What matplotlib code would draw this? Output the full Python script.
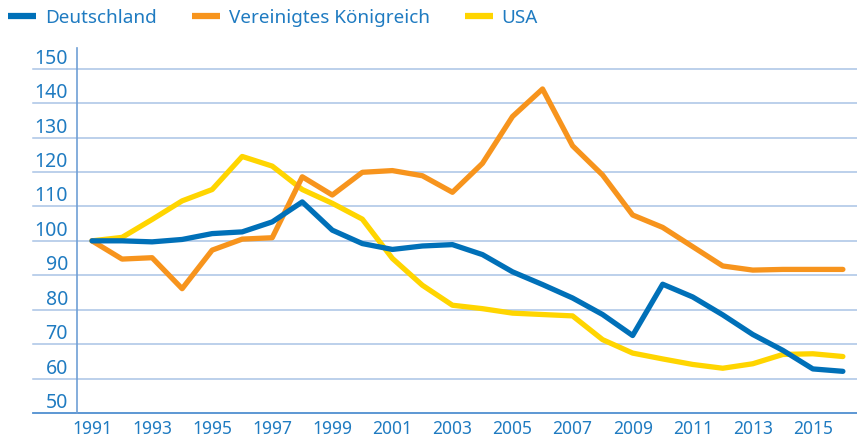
import matplotlib.pyplot as plt

years = list(range(1991, 2017))

deutschland = [100, 100, 99.7, 100.4, 102.1, 102.6, 105.5, 111.3, 103.1, 99.2,
               97.5, 98.5, 98.9, 96.0, 91.0, 87.3, 83.4, 78.6, 72.5, 87.4,
               83.7, 78.5, 72.8, 68.2, 62.8, 62.1]
uk = [100, 94.7, 95.1, 86.1, 97.3, 100.5, 100.9, 118.6, 113.3, 119.9,
      120.4, 118.9, 114.1, 122.5, 136.1, 144.1, 127.6, 119.1, 107.5, 103.9,
      98.3, 92.7, 91.5, 91.7, 91.7, 91.7]
usa = [100, 101, 106.2, 111.6, 114.9, 124.5, 121.7, 114.9, 110.9, 106.3,
       94.9, 87.1, 81.3, 80.3, 79.0, 78.6, 78.2, 71.3, 67.4, 65.7,
       64.1, 63.0, 64.3, 67.0, 67.2, 66.4]

yticks = [50, 60, 70, 80, 90, 100, 110, 120, 130, 140, 150]
xticks = list(range(1991, 2017, 2))

text_col = '#1f7bc1'
grid_col = '#a9c3e6'

plt.rcParams['font.family'] = ['Noto Sans', 'DejaVu Sans']

fig = plt.figure(figsize=(8.57, 4.4), dpi=100)
ax = fig.add_axes([77 / 857, 27 / 440, 780 / 857, 365 / 440])

ax.set_xlim(1990.5, 2016.47)
ax.set_ylim(50, 156)

# horizontal grid, drawn past the left spine under the labels
for v in yticks[1:]:
    ax.axhline(v, xmin=-44 / 780, xmax=1, color=grid_col, lw=1.1,
               clip_on=False, zorder=1)
ax.axhline(50, xmin=-44 / 780, xmax=1, color='#4f8fd0', lw=1.3,
           clip_on=False, zorder=1)

ax.plot(years, usa, color='#ffd500', lw=3.8, label='USA', zorder=3,
        solid_capstyle='round')
ax.plot(years, uk, color='#f7941d', lw=3.8, label='Vereinigtes Königreich',
        zorder=3, solid_capstyle='round')
ax.plot(years, deutschland, color='#0070b8', lw=3.8, label='Deutschland',
        zorder=4, solid_capstyle='round')

for s in ['top', 'right', 'bottom']:
    ax.spines[s].set_visible(False)
ax.spines['left'].set_color('#6f9fd6')
ax.spines['left'].set_linewidth(1.2)

ax.set_yticks(yticks)
ax.set_yticklabels([str(v) for v in yticks])
for lab in ax.get_yticklabels():
    lab.set_va('bottom')
ax.tick_params(axis='y', length=0, pad=6.5, labelsize=14, labelcolor=text_col)

ax.set_xticks(xticks)
ax.set_xticklabels([str(v) for v in xticks])
ax.tick_params(axis='x', length=0, pad=5, labelsize=12.5, labelcolor=text_col)
for lab in ax.get_xticklabels():
    lab.set_family(['Liberation Sans Narrow', 'Noto Sans'])

handles, labels = ax.get_legend_handles_labels()
order = [2, 1, 0]
leg = fig.legend([handles[i] for i in order], [labels[i] for i in order],
                 loc='upper left', bbox_to_anchor=(8 / 857, 1 - 9 / 440),
                 ncol=3, frameon=False, fontsize=13.6, borderpad=0,
                 borderaxespad=0, handlelength=1.48, handletextpad=0.48,
                 columnspacing=1.85)
for t in leg.get_texts():
    t.set_color(text_col)
for h in leg.get_lines():
    h.set_solid_capstyle('butt')
    h.set_linewidth(4.5)

fig.savefig('out.png', dpi=100)
